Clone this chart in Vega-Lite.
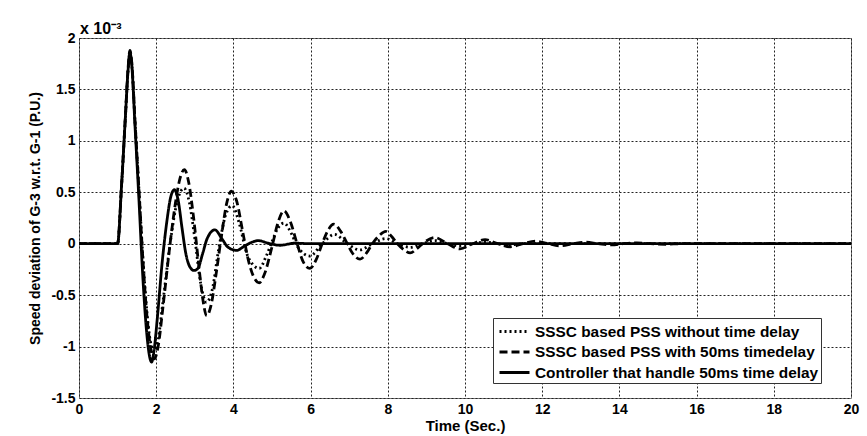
{
  "$schema": "https://vega.github.io/schema/vega-lite/v6.json",
  "width": 772,
  "height": 360,
  "autosize": {"type": "none"},
  "padding": {"left": 79, "top": 38, "right": 16, "bottom": 38},
  "background": "white",
  "title": {"text": "x 10⁻³", "anchor": "start", "frame": "group", "offset": -6, "dx": 1, "font": "Liberation Sans", "fontSize": 16, "fontWeight": "bold", "color": "black"},
  "config": {
    "view": {"stroke": "#777", "strokeWidth": 1},
    "axis": {"labelFont": "Liberation Sans", "labelFontSize": 14, "labelFontWeight": "bold", "labelColor": "black", "titleFont": "Liberation Sans", "titleFontSize": 14, "titleFontWeight": "bold", "titleColor": "black", "grid": true, "gridColor": "#222", "gridDash": [2, 2], "gridWidth": 1, "gridOpacity": 1, "domain": false, "ticks": false}
  },
  "datasets": {
    "curves": [
      {"t": 0, "v": 0, "s": "SSSC based PSS without time delay"},
      {"t": 1.0, "v": 0, "s": "SSSC based PSS without time delay"},
      {"t": 1.1, "v": 0.55, "s": "SSSC based PSS without time delay"},
      {"t": 1.2, "v": 1.22, "s": "SSSC based PSS without time delay"},
      {"t": 1.27, "v": 1.68, "s": "SSSC based PSS without time delay"},
      {"t": 1.32, "v": 1.86, "s": "SSSC based PSS without time delay"},
      {"t": 1.37, "v": 1.74, "s": "SSSC based PSS without time delay"},
      {"t": 1.45, "v": 1.2, "s": "SSSC based PSS without time delay"},
      {"t": 1.55, "v": 0.55, "s": "SSSC based PSS without time delay"},
      {"t": 1.65, "v": -0.1, "s": "SSSC based PSS without time delay"},
      {"t": 1.75, "v": -0.62, "s": "SSSC based PSS without time delay"},
      {"t": 1.85, "v": -0.95, "s": "SSSC based PSS without time delay"},
      {"t": 1.95, "v": -1.05, "s": "SSSC based PSS without time delay"},
      {"t": 2.05, "v": -0.93, "s": "SSSC based PSS without time delay"},
      {"t": 2.18, "v": -0.55, "s": "SSSC based PSS without time delay"},
      {"t": 2.36, "v": 0.0, "s": "SSSC based PSS without time delay"},
      {"t": 2.55, "v": 0.42, "s": "SSSC based PSS without time delay"},
      {"t": 2.72, "v": 0.54, "s": "SSSC based PSS without time delay"},
      {"t": 2.86, "v": 0.4, "s": "SSSC based PSS without time delay"},
      {"t": 3.0, "v": 0.05, "s": "SSSC based PSS without time delay"},
      {"t": 3.15, "v": -0.38, "s": "SSSC based PSS without time delay"},
      {"t": 3.3, "v": -0.57, "s": "SSSC based PSS without time delay"},
      {"t": 3.45, "v": -0.45, "s": "SSSC based PSS without time delay"},
      {"t": 3.62, "v": -0.05, "s": "SSSC based PSS without time delay"},
      {"t": 3.8, "v": 0.28, "s": "SSSC based PSS without time delay"},
      {"t": 3.97, "v": 0.37, "s": "SSSC based PSS without time delay"},
      {"t": 4.15, "v": 0.2, "s": "SSSC based PSS without time delay"},
      {"t": 4.35, "v": -0.1, "s": "SSSC based PSS without time delay"},
      {"t": 4.5, "v": -0.2, "s": "SSSC based PSS without time delay"},
      {"t": 4.67, "v": -0.24, "s": "SSSC based PSS without time delay"},
      {"t": 4.85, "v": -0.12, "s": "SSSC based PSS without time delay"},
      {"t": 5.0, "v": 0.02, "s": "SSSC based PSS without time delay"},
      {"t": 5.15, "v": 0.15, "s": "SSSC based PSS without time delay"},
      {"t": 5.31, "v": 0.2, "s": "SSSC based PSS without time delay"},
      {"t": 5.5, "v": 0.1, "s": "SSSC based PSS without time delay"},
      {"t": 5.65, "v": -0.02, "s": "SSSC based PSS without time delay"},
      {"t": 5.98, "v": -0.12, "s": "SSSC based PSS without time delay"},
      {"t": 6.3, "v": 0, "s": "SSSC based PSS without time delay"},
      {"t": 6.62, "v": 0.09, "s": "SSSC based PSS without time delay"},
      {"t": 6.95, "v": 0, "s": "SSSC based PSS without time delay"},
      {"t": 7.28, "v": -0.06, "s": "SSSC based PSS without time delay"},
      {"t": 7.6, "v": 0, "s": "SSSC based PSS without time delay"},
      {"t": 7.95, "v": 0.05, "s": "SSSC based PSS without time delay"},
      {"t": 8.25, "v": 0, "s": "SSSC based PSS without time delay"},
      {"t": 8.58, "v": -0.035, "s": "SSSC based PSS without time delay"},
      {"t": 8.9, "v": 0, "s": "SSSC based PSS without time delay"},
      {"t": 9.22, "v": 0.03, "s": "SSSC based PSS without time delay"},
      {"t": 9.55, "v": 0, "s": "SSSC based PSS without time delay"},
      {"t": 9.87, "v": -0.02, "s": "SSSC based PSS without time delay"},
      {"t": 10.2, "v": 0, "s": "SSSC based PSS without time delay"},
      {"t": 10.52, "v": 0.015, "s": "SSSC based PSS without time delay"},
      {"t": 10.85, "v": 0, "s": "SSSC based PSS without time delay"},
      {"t": 11.17, "v": -0.01, "s": "SSSC based PSS without time delay"},
      {"t": 11.5, "v": 0, "s": "SSSC based PSS without time delay"},
      {"t": 20, "v": 0, "s": "SSSC based PSS without time delay"},

      {"t": 0, "v": 0, "s": "SSSC based PSS with 50ms timedelay"},
      {"t": 1.0, "v": 0, "s": "SSSC based PSS with 50ms timedelay"},
      {"t": 1.1, "v": 0.55, "s": "SSSC based PSS with 50ms timedelay"},
      {"t": 1.2, "v": 1.22, "s": "SSSC based PSS with 50ms timedelay"},
      {"t": 1.27, "v": 1.7, "s": "SSSC based PSS with 50ms timedelay"},
      {"t": 1.32, "v": 1.88, "s": "SSSC based PSS with 50ms timedelay"},
      {"t": 1.37, "v": 1.75, "s": "SSSC based PSS with 50ms timedelay"},
      {"t": 1.45, "v": 1.2, "s": "SSSC based PSS with 50ms timedelay"},
      {"t": 1.55, "v": 0.55, "s": "SSSC based PSS with 50ms timedelay"},
      {"t": 1.65, "v": -0.12, "s": "SSSC based PSS with 50ms timedelay"},
      {"t": 1.75, "v": -0.66, "s": "SSSC based PSS with 50ms timedelay"},
      {"t": 1.85, "v": -1.0, "s": "SSSC based PSS with 50ms timedelay"},
      {"t": 1.95, "v": -1.12, "s": "SSSC based PSS with 50ms timedelay"},
      {"t": 2.05, "v": -1.0, "s": "SSSC based PSS with 50ms timedelay"},
      {"t": 2.18, "v": -0.6, "s": "SSSC based PSS with 50ms timedelay"},
      {"t": 2.36, "v": 0.0, "s": "SSSC based PSS with 50ms timedelay"},
      {"t": 2.5, "v": 0.4, "s": "SSSC based PSS with 50ms timedelay"},
      {"t": 2.62, "v": 0.64, "s": "SSSC based PSS with 50ms timedelay"},
      {"t": 2.73, "v": 0.72, "s": "SSSC based PSS with 50ms timedelay"},
      {"t": 2.84, "v": 0.6, "s": "SSSC based PSS with 50ms timedelay"},
      {"t": 2.97, "v": 0.25, "s": "SSSC based PSS with 50ms timedelay"},
      {"t": 3.1, "v": -0.2, "s": "SSSC based PSS with 50ms timedelay"},
      {"t": 3.2, "v": -0.52, "s": "SSSC based PSS with 50ms timedelay"},
      {"t": 3.31, "v": -0.7, "s": "SSSC based PSS with 50ms timedelay"},
      {"t": 3.42, "v": -0.6, "s": "SSSC based PSS with 50ms timedelay"},
      {"t": 3.55, "v": -0.3, "s": "SSSC based PSS with 50ms timedelay"},
      {"t": 3.7, "v": 0.1, "s": "SSSC based PSS with 50ms timedelay"},
      {"t": 3.83, "v": 0.4, "s": "SSSC based PSS with 50ms timedelay"},
      {"t": 3.95, "v": 0.51, "s": "SSSC based PSS with 50ms timedelay"},
      {"t": 4.08, "v": 0.42, "s": "SSSC based PSS with 50ms timedelay"},
      {"t": 4.25, "v": 0.1, "s": "SSSC based PSS with 50ms timedelay"},
      {"t": 4.4, "v": -0.18, "s": "SSSC based PSS with 50ms timedelay"},
      {"t": 4.55, "v": -0.34, "s": "SSSC based PSS with 50ms timedelay"},
      {"t": 4.67, "v": -0.38, "s": "SSSC based PSS with 50ms timedelay"},
      {"t": 4.8, "v": -0.3, "s": "SSSC based PSS with 50ms timedelay"},
      {"t": 5.0, "v": -0.03, "s": "SSSC based PSS with 50ms timedelay"},
      {"t": 5.15, "v": 0.2, "s": "SSSC based PSS with 50ms timedelay"},
      {"t": 5.31, "v": 0.32, "s": "SSSC based PSS with 50ms timedelay"},
      {"t": 5.47, "v": 0.22, "s": "SSSC based PSS with 50ms timedelay"},
      {"t": 5.65, "v": 0.0, "s": "SSSC based PSS with 50ms timedelay"},
      {"t": 5.8, "v": -0.17, "s": "SSSC based PSS with 50ms timedelay"},
      {"t": 5.98, "v": -0.24, "s": "SSSC based PSS with 50ms timedelay"},
      {"t": 6.15, "v": -0.15, "s": "SSSC based PSS with 50ms timedelay"},
      {"t": 6.3, "v": 0.0, "s": "SSSC based PSS with 50ms timedelay"},
      {"t": 6.45, "v": 0.13, "s": "SSSC based PSS with 50ms timedelay"},
      {"t": 6.6, "v": 0.19, "s": "SSSC based PSS with 50ms timedelay"},
      {"t": 6.78, "v": 0.12, "s": "SSSC based PSS with 50ms timedelay"},
      {"t": 6.95, "v": 0.0, "s": "SSSC based PSS with 50ms timedelay"},
      {"t": 7.1, "v": -0.1, "s": "SSSC based PSS with 50ms timedelay"},
      {"t": 7.28, "v": -0.15, "s": "SSSC based PSS with 50ms timedelay"},
      {"t": 7.45, "v": -0.09, "s": "SSSC based PSS with 50ms timedelay"},
      {"t": 7.6, "v": 0.0, "s": "SSSC based PSS with 50ms timedelay"},
      {"t": 7.78, "v": 0.08, "s": "SSSC based PSS with 50ms timedelay"},
      {"t": 7.95, "v": 0.12, "s": "SSSC based PSS with 50ms timedelay"},
      {"t": 8.1, "v": 0.07, "s": "SSSC based PSS with 50ms timedelay"},
      {"t": 8.25, "v": 0, "s": "SSSC based PSS with 50ms timedelay"},
      {"t": 8.42, "v": -0.06, "s": "SSSC based PSS with 50ms timedelay"},
      {"t": 8.58, "v": -0.09, "s": "SSSC based PSS with 50ms timedelay"},
      {"t": 8.75, "v": -0.05, "s": "SSSC based PSS with 50ms timedelay"},
      {"t": 8.9, "v": 0, "s": "SSSC based PSS with 50ms timedelay"},
      {"t": 9.22, "v": 0.06, "s": "SSSC based PSS with 50ms timedelay"},
      {"t": 9.55, "v": 0, "s": "SSSC based PSS with 50ms timedelay"},
      {"t": 9.87, "v": -0.05, "s": "SSSC based PSS with 50ms timedelay"},
      {"t": 10.2, "v": 0, "s": "SSSC based PSS with 50ms timedelay"},
      {"t": 10.52, "v": 0.04, "s": "SSSC based PSS with 50ms timedelay"},
      {"t": 10.85, "v": 0, "s": "SSSC based PSS with 50ms timedelay"},
      {"t": 11.17, "v": -0.03, "s": "SSSC based PSS with 50ms timedelay"},
      {"t": 11.5, "v": 0, "s": "SSSC based PSS with 50ms timedelay"},
      {"t": 11.82, "v": 0.025, "s": "SSSC based PSS with 50ms timedelay"},
      {"t": 12.15, "v": 0, "s": "SSSC based PSS with 50ms timedelay"},
      {"t": 12.45, "v": -0.02, "s": "SSSC based PSS with 50ms timedelay"},
      {"t": 12.8, "v": 0, "s": "SSSC based PSS with 50ms timedelay"},
      {"t": 13.1, "v": 0.015, "s": "SSSC based PSS with 50ms timedelay"},
      {"t": 13.45, "v": 0, "s": "SSSC based PSS with 50ms timedelay"},
      {"t": 13.8, "v": -0.012, "s": "SSSC based PSS with 50ms timedelay"},
      {"t": 14.1, "v": 0, "s": "SSSC based PSS with 50ms timedelay"},
      {"t": 14.45, "v": 0.008, "s": "SSSC based PSS with 50ms timedelay"},
      {"t": 14.8, "v": 0, "s": "SSSC based PSS with 50ms timedelay"},
      {"t": 15.2, "v": -0.005, "s": "SSSC based PSS with 50ms timedelay"},
      {"t": 15.6, "v": 0, "s": "SSSC based PSS with 50ms timedelay"},
      {"t": 20, "v": 0, "s": "SSSC based PSS with 50ms timedelay"},

      {"t": 0, "v": 0, "s": "Controller that handle 50ms time delay"},
      {"t": 1.0, "v": 0, "s": "Controller that handle 50ms time delay"},
      {"t": 1.1, "v": 0.55, "s": "Controller that handle 50ms time delay"},
      {"t": 1.2, "v": 1.22, "s": "Controller that handle 50ms time delay"},
      {"t": 1.27, "v": 1.68, "s": "Controller that handle 50ms time delay"},
      {"t": 1.32, "v": 1.86, "s": "Controller that handle 50ms time delay"},
      {"t": 1.37, "v": 1.72, "s": "Controller that handle 50ms time delay"},
      {"t": 1.45, "v": 1.15, "s": "Controller that handle 50ms time delay"},
      {"t": 1.55, "v": 0.45, "s": "Controller that handle 50ms time delay"},
      {"t": 1.65, "v": -0.3, "s": "Controller that handle 50ms time delay"},
      {"t": 1.75, "v": -0.85, "s": "Controller that handle 50ms time delay"},
      {"t": 1.83, "v": -1.1, "s": "Controller that handle 50ms time delay"},
      {"t": 1.88, "v": -1.15, "s": "Controller that handle 50ms time delay"},
      {"t": 1.94, "v": -1.05, "s": "Controller that handle 50ms time delay"},
      {"t": 2.03, "v": -0.72, "s": "Controller that handle 50ms time delay"},
      {"t": 2.15, "v": -0.2, "s": "Controller that handle 50ms time delay"},
      {"t": 2.27, "v": 0.2, "s": "Controller that handle 50ms time delay"},
      {"t": 2.38, "v": 0.46, "s": "Controller that handle 50ms time delay"},
      {"t": 2.47, "v": 0.525, "s": "Controller that handle 50ms time delay"},
      {"t": 2.57, "v": 0.42, "s": "Controller that handle 50ms time delay"},
      {"t": 2.67, "v": 0.15, "s": "Controller that handle 50ms time delay"},
      {"t": 2.77, "v": -0.1, "s": "Controller that handle 50ms time delay"},
      {"t": 2.88, "v": -0.23, "s": "Controller that handle 50ms time delay"},
      {"t": 2.98, "v": -0.26, "s": "Controller that handle 50ms time delay"},
      {"t": 3.08, "v": -0.24, "s": "Controller that handle 50ms time delay"},
      {"t": 3.2, "v": -0.1, "s": "Controller that handle 50ms time delay"},
      {"t": 3.32, "v": 0.05, "s": "Controller that handle 50ms time delay"},
      {"t": 3.52, "v": 0.135, "s": "Controller that handle 50ms time delay"},
      {"t": 3.7, "v": 0.05, "s": "Controller that handle 50ms time delay"},
      {"t": 3.85, "v": -0.03, "s": "Controller that handle 50ms time delay"},
      {"t": 4.08, "v": -0.065, "s": "Controller that handle 50ms time delay"},
      {"t": 4.3, "v": -0.02, "s": "Controller that handle 50ms time delay"},
      {"t": 4.45, "v": 0.01, "s": "Controller that handle 50ms time delay"},
      {"t": 4.65, "v": 0.03, "s": "Controller that handle 50ms time delay"},
      {"t": 4.9, "v": 0.005, "s": "Controller that handle 50ms time delay"},
      {"t": 5.2, "v": -0.015, "s": "Controller that handle 50ms time delay"},
      {"t": 5.6, "v": 0.005, "s": "Controller that handle 50ms time delay"},
      {"t": 6.0, "v": 0, "s": "Controller that handle 50ms time delay"},
      {"t": 20, "v": 0, "s": "Controller that handle 50ms time delay"}
    ]
  },
  "data": {"name": "curves"},
  "mark": {"type": "line", "interpolate": "monotone", "strokeWidth": 2.8, "color": "black"},
  "encoding": {
    "x": {"field": "t", "type": "quantitative", "scale": {"domain": [0, 20], "nice": false}, "axis": {"values": [0, 2, 4, 6, 8, 10, 12, 14, 16, 18, 20], "title": "Time (Sec.)", "titleFontSize": 15, "labelPadding": 4, "titlePadding": 2, "labelFlush": false}},
    "y": {"field": "v", "type": "quantitative", "scale": {"domain": [-1.5, 2], "nice": false, "zero": false}, "axis": {"values": [-1.5, -1, -0.5, 0, 0.5, 1, 1.5, 2], "labelExpr": "datum.value + ''", "title": "Speed deviation of G-3 w.r.t. G-1 (P.U.)", "labelPadding": 4, "titlePadding": 8, "labelFlush": false}},
    "strokeDash": {
      "field": "s", "type": "nominal",
      "scale": {"domain": ["SSSC based PSS without time delay", "SSSC based PSS with 50ms timedelay", "Controller that handle 50ms time delay"], "range": [[2, 3], [8, 4], [1, 0]]},
      "legend": {"title": null, "orient": "none", "legendX": 414, "legendY": 280, "symbolType": "M-0.7,0H2.3", "symbolSize": 400, "symbolStrokeWidth": 2.8, "symbolStrokeColor": "black", "labelFont": "Liberation Sans", "labelFontSize": 15.4, "labelFontWeight": "bold", "labelColor": "black", "strokeColor": "#333", "fillColor": "white", "padding": 2, "rowPadding": 0.5, "labelOffset": 17, "labelLimit": 400}
    },
    "order": {"field": "t", "type": "quantitative"}
  }
}
